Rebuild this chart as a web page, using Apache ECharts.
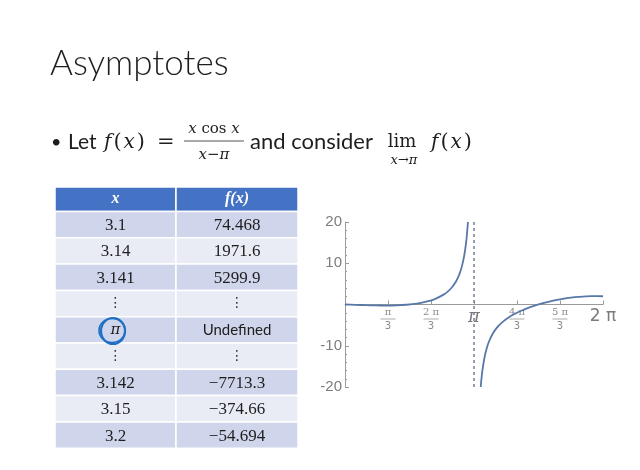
<!DOCTYPE html>
<html>
<head>
<meta charset="utf-8">
<script src="https://cdn.jsdelivr.net/npm/echarts@6/dist/echarts.min.js"></script>
<style>
  html, body { margin: 0; padding: 0; background: #fff; }
  #main { width: 640px; height: 470px; }
</style>
</head>
<body>
<div id="main"></div>
<script>
  // table rows
  var tableX = ['3.1', '3.14', '3.141', '⋮', 'π', '⋮', '3.142', '3.15', '3.2'];
  var tableF = ['74.468', '1971.6', '5299.9', '⋮', 'Undefined', '⋮', '−7713.3', '−374.66', '−54.694'];

  // curve, left of the asymptote
  var leftX = [0, 0.25, 0.5, 0.75, 1.0, 1.25, 1.5, 1.75, 2.0, 2.2, 2.4, 2.5, 2.6, 2.7, 2.75, 2.8, 2.85, 2.9, 2.94, 2.96, 2.97, 2.99, 2.994];
  var leftY = [0, -0.08, -0.17, -0.23, -0.25, -0.21, -0.06, 0.22, 0.73, 1.38, 2.39, 3.12, 4.11, 5.53, 6.49, 7.72, 9.36, 11.66, 14.29, 16.03, 17.05, 19.5, 20];
  // right of the asymptote
  var rightX = [3.305, 3.32, 3.35, 3.4, 3.45, 3.5, 3.6, 3.7, 3.8, 4.0, 4.2, 4.4, 4.6, 4.8, 5.0, 5.2, 5.4, 5.6, 5.8, 6.0, 6.283];
  var rightY = [-20, -18.31, -15.73, -12.72, -10.66, -9.15, -7.04, -5.62, -4.57, -3.05, -1.95, -1.07, -0.35, 0.25, 0.76, 1.18, 1.52, 1.77, 1.93, 2.02, 2.0];

  var asymptoteX = Math.PI;
  var xTickLabels = ['', 'π/3', '2 π/3', 'π', '4 π/3', '5 π/3', '2 π'];

  var curveColor = '#5878a8';
  var axisGray = '#9a9a9a';

  function pairs(xs, ys) {
    return xs.map(function (x, i) { return [x, ys[i]]; });
  }

  /*幻灯片上的文字和表格*/
  var graphics = [];
  function txt(x, y, text, size, family, extra) {
    var style = {
      x: x, y: y, text: text, fontSize: size, fontFamily: family,
      fill: '#1e1e1e', align: 'left', verticalAlign: 'middle'
    };
    for (var k in (extra || {})) style[k] = extra[k];
    graphics.push({type: 'text', style: style, z: 10});
  }

  var serif = 'DejaVu Serif';
  var mathRich = {
    i: {fontStyle: 'italic', fontSize: 20, fontFamily: serif, padding: [0, 2]},
    p: {fontSize: 21, fontFamily: serif}
  };

  txt(50, 64, 'Asymptotes', 35, 'Lato', {fontWeight: 300});
  txt(51, 142, '•', 18, 'Lato');
  txt(68, 142, 'Let', 21, 'Lato');
  txt(102, 143, '{i|f}{p|(}{i|x}{p|)}', 20, serif, {rich: mathRich});
  txt(157, 143, '=', 21, serif);
  txt(214, 129, '{s|x} cos {s|x}', 15, serif, {
    align: 'center',
    rich: {s: {fontStyle: 'italic', fontSize: 15, fontFamily: serif}}
  });
  graphics.push({type: 'line', shape: {x1: 184, y1: 141, x2: 244, y2: 141}, style: {stroke: '#555', lineWidth: 1}});
  txt(214, 155, '{s|x}−{s|π}', 15, serif, {
    align: 'center',
    rich: {s: {fontStyle: 'italic', fontSize: 15, fontFamily: serif}}
  });
  txt(250, 142, 'and consider', 22, 'Lato');
  txt(402, 142, 'lim', 18, serif, {align: 'center'});
  txt(404, 161, '{s|x}→{s|π}', 13, serif, {
    align: 'center',
    rich: {s: {fontStyle: 'italic', fontSize: 13, fontFamily: serif}}
  });
  txt(429, 143, '{i|f}{p|(}{i|x}{p|)}', 20, serif, {rich: mathRich});

  // table
  var tLeft = 55, tMid = 176, tRight = 298, headTop = 187, headH = 24.5, rowH = 26.3;
  graphics.push({type: 'rect', shape: {x: tLeft, y: headTop, width: tMid - tLeft, height: headH}, style: {fill: '#4472c4', stroke: '#fff', lineWidth: 1.5}});
  graphics.push({type: 'rect', shape: {x: tMid, y: headTop, width: tRight - tMid, height: headH}, style: {fill: '#4472c4', stroke: '#fff', lineWidth: 1.5}});
  txt((tLeft + tMid) / 2, headTop + headH / 2, 'x', 16, 'Liberation Serif', {align: 'center', fill: '#fff', fontWeight: 'bold', fontStyle: 'italic'});
  txt((tMid + tRight) / 2, headTop + headH / 2, 'f(x)', 16, 'Liberation Serif', {align: 'center', fill: '#fff', fontWeight: 'bold', fontStyle: 'italic'});
  tableX.forEach(function (xv, i) {
    var top = headTop + headH + i * rowH;
    var fill = i % 2 === 0 ? '#cfd5ea' : '#e9ebf5';
    graphics.push({type: 'rect', shape: {x: tLeft, y: top, width: tMid - tLeft, height: rowH}, style: {fill: fill, stroke: '#fff', lineWidth: 1.5}});
    graphics.push({type: 'rect', shape: {x: tMid, y: top, width: tRight - tMid, height: rowH}, style: {fill: fill, stroke: '#fff', lineWidth: 1.5}});
    var cy = top + rowH / 2;
    var fv = tableF[i];
    if (xv === '⋮') {
      txt((tLeft + tMid) / 2, cy, xv, 14, 'DejaVu Sans', {align: 'center', fill: '#333'});
    } else if (xv === 'π') {
      txt((tLeft + tMid) / 2, cy, xv, 15, 'DejaVu Serif', {align: 'center', fontStyle: 'italic'});
    } else {
      txt((tLeft + tMid) / 2, cy + 1, xv, 17, 'Liberation Serif', {align: 'center'});
    }
    if (fv === '⋮') {
      txt((tMid + tRight) / 2, cy, fv, 14, 'DejaVu Sans', {align: 'center', fill: '#333'});
    } else if (fv === 'Undefined') {
      txt((tMid + tRight) / 2, cy, fv, 15, 'Lato', {align: 'center'});
    } else {
      txt((tMid + tRight) / 2, cy + 1, fv, 17, 'Liberation Serif', {align: 'center'});
    }
  });
  // hand drawn circle round pi
  graphics.push({type: 'ellipse', shape: {cx: 113, cy: 331, rx: 12, ry: 13}, style: {fill: 'none', stroke: '#1f6fc5', lineWidth: 2.2}, z: 20});
  graphics.push({type: 'ellipse', shape: {cx: 112, cy: 330.5, rx: 13, ry: 12}, style: {fill: 'none', stroke: '#1f6fc5', lineWidth: 1.6}, z: 20});

  var chart = echarts.init(document.getElementById('main'), null, {renderer: 'canvas'});
  chart.setOption({
    backgroundColor: '#fff',
    animation: false,
    graphic: graphics,
    grid: {left: 345, right: 37, top: 222, bottom: 83, outerBoundsMode: 'none'},
    xAxis: {
      type: 'value',
      min: 0,
      max: Math.PI * 2,
      interval: Math.PI / 3,
      splitLine: {show: false},
      axisLine: {onZero: true, lineStyle: {color: axisGray, width: 1}},
      axisTick: {inside: true, length: 4, lineStyle: {color: axisGray}},
      axisLabel: {
        margin: -80,
        showMinLabel: true,
        showMaxLabel: true,
        formatter: function (v) {
          var s = xTickLabels[Math.round(v / (Math.PI / 3))] || '';
          if (s.indexOf('/') >= 0) {
            var p = s.split('/');
            return '{n|' + p[0] + '}\n{bar| }\n{d|' + p[1] + '}';
          }
          if (s === 'π') return '{pi|π}';
          if (s) return '{big|' + s + '}';
          return '';
        },
        rich: {
          n: {fontSize: 10, fontFamily: 'DejaVu Serif', color: '#8a8a8a', lineHeight: 11},
          bar: {width: 15, height: 1, lineHeight: 2, fontSize: 1, backgroundColor: '#aaa'},
          d: {fontSize: 10, fontFamily: 'DejaVu Sans', color: '#8a8a8a', lineHeight: 13},
          pi: {fontSize: 18, fontFamily: 'DejaVu Serif', fontStyle: 'italic', color: '#7a7a7a', lineHeight: 20},
          big: {fontSize: 17, fontFamily: 'DejaVu Sans', color: '#7a7a7a', lineHeight: 20}
        }
      }
    },
    yAxis: {
      type: 'value',
      min: -20,
      max: 20,
      interval: 10,
      splitLine: {show: false},
      axisLine: {onZero: true, lineStyle: {color: axisGray, width: 1}},
      axisTick: {inside: true, length: 4, lineStyle: {color: axisGray}},
      minorTick: {show: true, splitNumber: 5, length: 2, lineStyle: {color: axisGray}},
      axisLabel: {
        margin: 3,
        fontSize: 15,
        fontFamily: 'Liberation Sans',
        color: '#7d7d7d',
        formatter: function (v) {
          if (v === 0) return '';
          return v < 0 ? '-' + Math.abs(v) : String(v);
        }
      }
    },
    series: [
      {
        type: 'line',
        data: pairs(leftX, leftY),
        showSymbol: false,
        smooth: 0.2,
        lineStyle: {color: curveColor, width: 1.8},
        markLine: {
          silent: true,
          symbol: 'none',
          label: {show: false},
          lineStyle: {color: '#6f7d99', width: 1.5, type: [3, 3]},
          data: [{xAxis: asymptoteX}]
        }
      },
      {
        type: 'line',
        data: pairs(rightX, rightY),
        showSymbol: false,
        smooth: 0.2,
        lineStyle: {color: curveColor, width: 1.8}
      }
    ]
  });
</script>
</body>
</html>
